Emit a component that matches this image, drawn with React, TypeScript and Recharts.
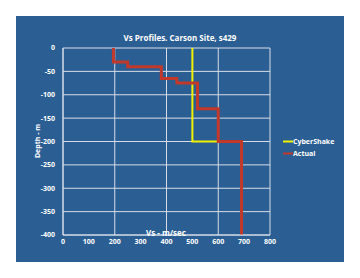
import * as React from "react";
import { CartesianGrid, Line, LineChart, XAxis, YAxis } from "recharts";

// step profiles (Vs in m/sec, depth in m)
const actualVs = [195, 195, 250, 250, 380, 380, 440, 440, 520, 520, 600, 600, 690, 690];
const actualDepth = [0, -30, -30, -40, -40, -65, -65, -75, -75, -130, -130, -200, -200, -400];
const cyberVs = [500, 500, 600];
const cyberDepth = [0, -200, -200];
const xTicks = [0, 100, 200, 300, 400, 500, 600, 700, 800];
const yTicks = [0, -50, -100, -150, -200, -250, -300, -350, -400];

const actual = actualVs.map((v, i) => ({ vs: v, depth: actualDepth[i] }));
const cyber = cyberVs.map((v, i) => ({ vs: v, depth: cyberDepth[i] }));

const font = "'Open Sans', 'Liberation Sans', sans-serif";
const tick = { fill: "#ffffff", fontSize: 7, fontWeight: 700, fontFamily: font };

export default function App() {
  return (
    <div
      style={{
        position: "relative",
        width: 328,
        height: 246,
        margin: "8px 0 0 8px",
        background: "#2b5e93",
        fontFamily: font,
        color: "#fff",
      }}
    >
      <LineChart
        width={328}
        height={246}
        margin={{ top: 32, right: 74, bottom: 7, left: 0 }}
      >
        <CartesianGrid stroke="#d7dde8" strokeWidth={1} />
        <XAxis
          type="number"
          dataKey="vs"
          domain={[0, 800]}
          ticks={xTicks}
          height={20}
          tick={tick}
          tickLine={false}
          tickSize={2}
          tickMargin={2}
          axisLine={{ stroke: "#d7dde8" }}
          allowDuplicatedCategory={false}
        />
        <YAxis
          type="number"
          dataKey="depth"
          domain={[-400, 0]}
          ticks={yTicks}
          width={47}
          tick={tick}
          tickLine={false}
          axisLine={{ stroke: "#d7dde8" }}
        />
        <Line
          data={cyber}
          dataKey="depth"
          type="linear"
          stroke="#f2f200"
          strokeWidth={2}
          dot={false}
          isAnimationActive={false}
        />
        <Line
          data={actual}
          dataKey="depth"
          type="linear"
          stroke="#c0392b"
          strokeWidth={3}
          dot={false}
          isAnimationActive={false}
        />
      </LineChart>
      <div
        style={{
          position: "absolute",
          left: 0,
          width: 328,
          top: 16,
          textAlign: "center",
          fontSize: 8,
          fontWeight: 700,
        }}
      >
        Vs Profiles. Carson Site, s429
      </div>
      <div
        style={{
          position: "absolute",
          left: 21,
          top: 125,
          transform: "translate(-50%, -50%) rotate(-90deg)",
          fontSize: 7,
          fontWeight: 700,
          whiteSpace: "nowrap",
        }}
      >
        Depth - m
      </div>
      <div
        style={{
          position: "absolute",
          left: 150,
          top: 216,
          transform: "translate(-50%, -50%)",
          fontSize: 8,
          fontWeight: 700,
          whiteSpace: "nowrap",
        }}
      >
        Vs - m/sec
      </div>
      {[
        { name: "CyberShake", color: "#f2f200", top: 125 },
        { name: "Actual", color: "#c0392b", top: 137 },
      ].map((item) => (
        <div
          key={item.name}
          style={{
            position: "absolute",
            left: 267,
            top: item.top,
            transform: "translateY(-50%)",
            display: "flex",
            alignItems: "center",
            fontSize: 7,
            fontWeight: 700,
          }}
        >
          <span style={{ width: 10, height: 2, background: item.color, display: "inline-block" }} />
          <span>{item.name}</span>
        </div>
      ))}
    </div>
  );
}
